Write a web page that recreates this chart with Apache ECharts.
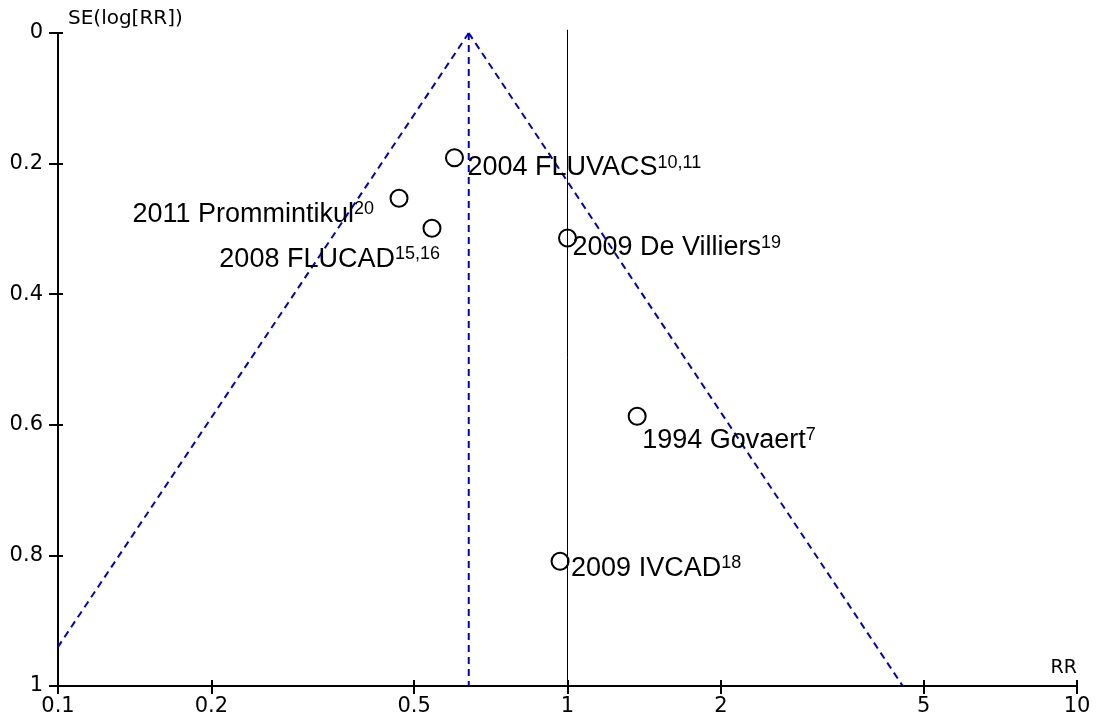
<!DOCTYPE html>
<html>
<head>
<meta charset="utf-8">
<script src="https://cdn.jsdelivr.net/npm/echarts@6/dist/echarts.min.js"></script>
<style>
html,body{margin:0;padding:0;background:#fff;}
#chart{width:1101px;height:722px;}
</style>
</head>
<body>
<div id="chart"></div>
<script>
// ---- data ----
const studies = ['2004 FLUVACS', '2011 Prommintikul', '2008 FLUCAD', '2009 De Villiers', '1994 Govaert', '2009 IVCAD'];
const refs = ['10,11', '20', '15,16', '19', '7', '18'];
const rrValues = [0.60, 0.467, 0.542, 1.0, 1.37, 0.967];
const seValues = [0.191, 0.253, 0.299, 0.314, 0.587, 0.809];
const funnelLeft = [[0.64, 0], [0.1, 0.94]];
const funnelRight = [[0.64, 0], [4.55, 1]];
const funnelCenter = [[0.64, 0], [0.64, 1]];
const nullLine = [[1, -0.005], [1, 1]];
const xTicks = [0.1, 0.2, 0.5, 1, 2, 5, 10];
const yTicks = [0, 0.2, 0.4, 0.6, 0.8, 1];

// ---- label placement (style only, relative to marker centre) ----
const labelPlacement = [
  {align: 'left', offset: [14, 11]},
  {align: 'right', offset: [-24, 17]},
  {align: 'right', offset: [9, 32]},
  {align: 'left', offset: [6, 11]},
  {align: 'left', offset: [6, 25]},
  {align: 'left', offset: [12, 8]}
];

const tickFont = 'DejaVu Sans';
const labelFont = 'Liberation Sans, Arial, Helvetica, sans-serif';
const dashBlue = '#0000cd';
const markerSize = 17;

const points = rrValues.map((v, i) => ({
  value: [v, seValues[i]],
  name: studies[i],
  label: {
    show: true,
    position: [markerSize / 2, markerSize / 2],
    align: labelPlacement[i].align,
    verticalAlign: 'middle',
    offset: labelPlacement[i].offset,
    formatter: '{a|' + studies[i] + '}{b|' + refs[i] + '}'
  }
}));

const chart = echarts.init(document.getElementById('chart'), null, {renderer: 'canvas'});

const xBase = {
  type: 'log', logBase: 10, min: xTicks[0], max: xTicks[xTicks.length - 1],
  gridIndex: 0, position: 'bottom', splitLine: {show: false}
};
const yBase = {
  type: 'value', inverse: true, min: yTicks[0], max: yTicks[yTicks.length - 1], interval: 0.2,
  gridIndex: 0, position: 'left', splitLine: {show: false}
};

const option = {
  animation: false,
  backgroundColor: '#ffffff',
  grid: {left: 58, right: 24, top: 33, bottom: 36, containLabel: false},
  xAxis: [
    Object.assign({}, xBase, {
      name: 'RR',
      nameLocation: 'end',
      nameGap: 0,
      nameTextStyle: {fontFamily: tickFont, fontSize: 19, color: '#000', align: 'right', verticalAlign: 'bottom', padding: [0, 0, 8, 0]},
      axisLine: {show: true, onZero: false, lineStyle: {color: '#000', width: 2}},
      axisTick: {show: true, inside: false, length: 8, lineStyle: {color: '#000', width: 2}, customValues: xTicks},
      axisLabel: {show: true, margin: 10, fontFamily: tickFont, fontSize: 21, color: '#000', customValues: xTicks,
        formatter: v => String(+(+v).toPrecision(6))}
    }),
    Object.assign({}, xBase, {
      axisLine: {show: false, onZero: false},
      axisTick: {show: true, inside: true, length: 6, lineStyle: {color: '#000', width: 2}, customValues: xTicks},
      axisLabel: {show: false}
    })
  ],
  yAxis: [
    Object.assign({}, yBase, {
      name: 'SE(log[RR])',
      nameLocation: 'start',
      nameGap: 4,
      nameTextStyle: {fontFamily: tickFont, fontSize: 20, color: '#000', align: 'left', verticalAlign: 'bottom', padding: [0, 0, 0, 10]},
      axisLine: {show: true, onZero: false, lineStyle: {color: '#000', width: 2}},
      axisTick: {show: true, inside: false, length: 9, lineStyle: {color: '#000', width: 2}},
      axisLabel: {show: true, margin: 15, fontFamily: tickFont, fontSize: 21, color: '#000',
        formatter: v => String(+(+v).toFixed(2))}
    }),
    Object.assign({}, yBase, {
      axisLine: {show: false, onZero: false},
      axisTick: {show: true, inside: true, length: 5, lineStyle: {color: '#000', width: 2}},
      axisLabel: {show: false}
    })
  ],
  series: [
    {type: 'line', data: nullLine, symbol: 'none', silent: true, clip: false,
      lineStyle: {color: '#000', width: 1}, z: 2},
    {type: 'line', data: funnelLeft, symbol: 'none', silent: true,
      lineStyle: {color: dashBlue, width: 2, type: [7, 5]}, z: 3},
    {type: 'line', data: funnelRight, symbol: 'none', silent: true,
      lineStyle: {color: dashBlue, width: 2, type: [7, 5]}, z: 3},
    {type: 'line', data: funnelCenter, symbol: 'none', silent: true,
      lineStyle: {color: dashBlue, width: 2, type: [7, 5]}, z: 3},
    {type: 'scatter', data: points, symbol: 'circle', symbolSize: markerSize, silent: true,
      itemStyle: {color: 'rgba(255,255,255,0)', borderColor: '#000', borderWidth: 2, opacity: 1},
      label: {
        color: '#000',
        opacity: 1,
        textBorderWidth: 0,
        rich: {
          a: {fontFamily: labelFont, fontSize: 27, color: '#000', lineHeight: 28, verticalAlign: 'middle', textBorderWidth: 0},
          b: {fontFamily: labelFont, fontSize: 18, color: '#000', lineHeight: 18, verticalAlign: 'top', textBorderWidth: 0}
        }
      },
      z: 5}
  ]
};
chart.setOption(option);
</script>
</body>
</html>
